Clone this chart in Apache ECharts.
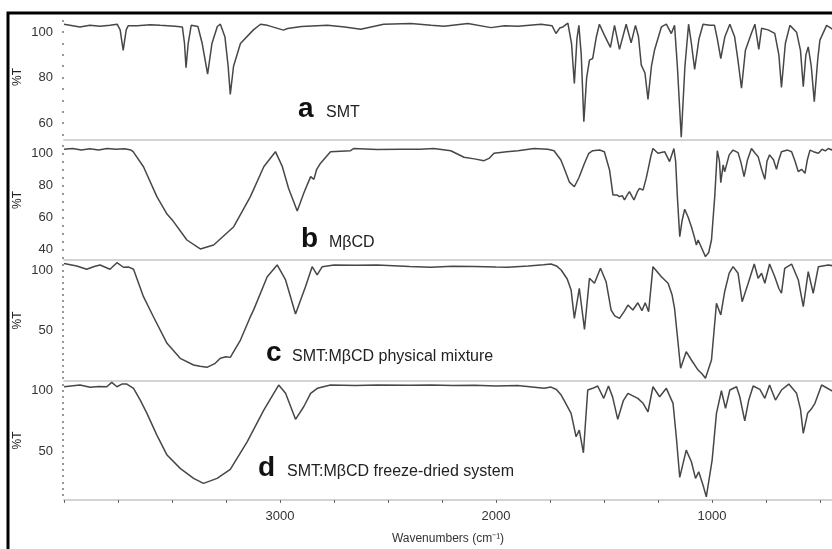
<!DOCTYPE html>
<html>
<head>
<meta charset="utf-8">
<script src="https://cdn.jsdelivr.net/npm/echarts@6/dist/echarts.min.js"></script>
<style>html,body{margin:0;padding:0;background:#fff;}#c{width:832px;height:549px;}</style>
</head>
<body>
<div id="c"></div>
<script>
// ---- DATA ----
const xLabels = [3000, 2000, 1000];
const xTitle = 'Wavenumbers (cm\u207B\u00B9)';
const yTitle = '%T';

const aLabel = ['a', 'SMT'];
const aTicks = [60, 80, 100];
const aWn = [4000,3995,3926,3880,3833,3787,3754,3740,3726,3712,3703,3661,3600,3555,3485,3452,3442,3435,3425,3411,3380,3360,3335,3315,3290,3276,3255,3240,3230,3215,3183,3123,3090,3058,2984,2965,2900,2780,2700,2626,2520,2394,2300,2241,2130,2023,1960,1898,1791,1740,1722,1705,1690,1667,1650,1637,1625,1616,1605,1593,1580,1567,1552,1535,1521,1498,1470,1451,1428,1397,1374,1354,1340,1327,1310,1296,1280,1266,1234,1211,1188,1173,1160,1142,1125,1108,1095,1080,1060,1041,1010,988,975,959,940,917,895,880,863,845,817,801,783,770,740,709,690,678,660,639,608,590,577,565,554,540,526,510,500,469,436];
const aT  = [103.5,103.5,102.3,103,102.6,103,103.5,101,92,101,102.8,102.8,103.3,103,102.6,102.3,95,84.3,95,103,102.5,95,81.5,95,102.5,103.5,98,85,72.6,85,95,101,103.5,103,100.9,101.6,102.5,103,102.3,101.3,103.5,103.8,103,102.6,103.8,102,102.8,102.6,103.5,102.8,99.4,101.8,102.3,104,95,77.4,97,103,90,60.6,80,87.7,88.4,98,103.5,98.7,93.3,103,92.4,103.5,95.3,103,98,85.5,82,70.4,85,92,102.3,103.5,99.4,103,85,53.7,85,103.5,95,83.6,97,103.5,103,103,97,88.4,98,103.5,98,88,75.3,92,99.5,103.5,92.4,101.7,101,99.5,90,75.7,95,103,100,92,76,90,93.5,85,69.4,88,96.5,103,101];

const bLabel = ['b', 'M\u03B2CD'];
const bTicks = [40, 60, 80, 100];
const bWn = [4000,3960,3920,3880,3840,3800,3760,3720,3690,3680,3632,3570,3523,3493,3431,3369,3307,3214,3137,3075,3021,2990,2960,2920,2890,2858,2843,2830,2812,2766,2673,2659,2550,2441,2350,2288,2209,2148,2100,2055,2030,2009,1950,1898,1824,1760,1731,1700,1685,1660,1637,1615,1590,1570,1552,1520,1498,1474,1458,1440,1428,1415,1405,1392,1382,1370,1361,1345,1335,1319,1305,1296,1283,1273,1250,1219,1196,1176,1168,1160,1149,1138,1126,1110,1095,1080,1072,1064,1045,1030,1015,1002,987,975,965,959,948,941,920,902,879,865,851,835,817,800,786,770,755,745,733,715,701,690,678,650,631,615,600,585,569,558,546,530,507,490,475,461,445,436];
const bT  = [102.5,103,102,102.8,102,103,102.5,102.8,102,101,91.6,72.9,62,57.3,45.8,40.2,42.7,54.1,72.9,91.6,101,92,78,63.9,75,85.4,83.7,90,93.8,101,101.6,103,102.3,102.5,102.5,103,101.6,97.5,96.5,95.4,97,100,101,101.6,103,102.5,101.6,96,91,82,79.1,85,93.8,100,101.6,102,101,89.6,73.9,74,72.9,73.5,70.8,74,76,73,70.8,76,78.1,77,84,89.6,98,103,100,101,94.8,103,95,72.9,47.9,58,65,60,54.1,47,42.7,45.8,40,35.4,38,45.8,72.9,101.6,95,81.6,92.7,88.5,99,102,100.4,94,85.4,96,103,100,97.9,90,83.7,95,99,96,90,96,101,102,101,95,88.5,90,87.5,96,102,101,100,102.5,101.5,103,102,104];

const cLabel = ['c', 'SMT:M\u03B2CD physical mixture'];
const cTicks = [50, 100];
const cWn = [4000,3995,3941,3895,3860,3833,3787,3755,3725,3700,3678,3632,3586,3523,3462,3400,3370,3338,3300,3276,3250,3230,3183,3140,3122,3059,3013,2974,2928,2882,2851,2828,2804,2750,2650,2550,2400,2302,2200,2100,2000,1946,1850,1780,1745,1720,1698,1670,1652,1637,1614,1590,1567,1544,1516,1490,1467,1450,1428,1405,1389,1366,1343,1324,1309,1293,1273,1234,1203,1185,1173,1160,1145,1119,1095,1064,1045,1030,1002,979,971,959,941,920,902,879,860,832,804,786,770,755,733,709,690,678,663,631,600,577,554,531,507,461,436];
const cT  = [106,106.2,104,101.2,103.5,104.8,101.2,106.7,102.9,103,101.2,78.1,61.2,38.8,26.2,20.6,19.5,18.6,22,26.2,27.5,27,41.6,60,67,94.9,104.8,92.2,63.5,86.5,103.4,96.4,103.4,104.8,104.5,104.8,103.5,102.9,103.8,103.5,103,102.9,104,105,105.6,104,100.6,93,83.7,59.9,85.2,50.6,93.6,89.4,102,90.7,66.9,62,59.9,66,71.1,66.9,73,66.3,73,65.5,103.4,94.9,89.4,80,68.3,45,17.8,31.8,24.8,16.3,13,9.4,24.8,72.5,71.1,62.7,82.3,98,103.4,97.8,73.9,89.4,105.6,93.6,97.8,89.4,105.6,94.9,85,81,102,105.6,92.2,69.7,99.2,81,103.4,104.8,104];

const dLabel = ['d', 'SMT:M\u03B2CD freeze-dried system'];
const dTicks = [50, 100];
const dWn = [4000,3995,3926,3879,3840,3802,3779,3755,3732,3709,3678,3647,3616,3570,3523,3462,3400,3354,3291,3230,3152,3075,3006,2974,2928,2890,2858,2827,2766,2650,2550,2400,2300,2200,2100,2000,1900,1777,1745,1720,1698,1685,1652,1629,1614,1595,1575,1552,1529,1501,1479,1460,1436,1410,1389,1343,1320,1296,1273,1242,1211,1180,1165,1149,1119,1095,1076,1061,1040,1026,999,979,956,937,917,886,871,848,830,809,778,755,733,706,678,644,608,590,577,557,540,523,492,436];
const dT  = [103.3,103.3,104.7,102.8,103.5,103.3,106.9,103.3,105.5,105.5,102,92.4,81.5,63.7,47.3,36.4,28.2,24.1,28.2,35.6,58.2,84.2,104.7,97.9,76.6,86.9,97.9,102,104.7,104.3,104.7,104.5,104.7,104.3,104.5,104,104.3,102,103,101,96.5,92.4,81.5,62.3,67.8,49.2,100.6,102,103.9,93.8,103.9,95,76.6,92,97.9,93.8,90,82.8,103.3,95.1,102,89.7,62.3,29,51.4,41.8,28.2,33.6,22,13.1,43.2,81.5,100,85.6,100.6,103.3,95.1,75.4,92,103.9,101.1,93.8,104.7,92.4,100.6,105.5,97.9,85,65.1,81.5,85,89.7,104.7,99.2];

// ---- CHART ----
const X_MIN = 444, X_MAX = 4000;
const xTickValues = [];
for (let v = 500; v <= X_MAX; v += 250) xTickValues.push(v);

const panels = [
  {wn: aWn, t: aT, ticks: aTicks, label: aLabel, top: 14, h: 126, min: 52.5, max: 108, lx: 298, base: 118},
  {wn: bWn, t: bT, ticks: bTicks, label: bLabel, top: 140, h: 120, min: 33.3, max: 108.3, lx: 301, base: 248},
  {wn: cWn, t: cT, ticks: cTicks, label: cLabel, top: 260, h: 121, min: 7.1, max: 109, lx: 266, base: 362},
  {wn: dWn, t: dT, ticks: dTicks, label: dLabel, top: 381, h: 119, min: 10.5, max: 108, lx: 258, base: 477}
];

function minorTicks(min, max) {
  const out = [];
  for (let v = Math.ceil(min / 5) * 5; v <= max; v += 5) out.push(v);
  return out;
}

const grids = [], xAxes = [], yAxes = [], series = [], graphics = [];
const FONT = 'Arial, "Liberation Sans", sans-serif';
panels.forEach((p, i) => {
  const last = i === panels.length - 1;
  grids.push({left: 64, right: 0, top: p.top, height: p.h});
  xAxes.push({
    type: 'value', gridIndex: i, inverse: true, min: X_MIN, max: X_MAX,
    axisLine: {show: true, lineStyle: {color: '#d4d4d4', width: 2}},
    axisTick: {show: last, length: 3, customValues: xTickValues, lineStyle: {color: '#666', width: 1}},
    axisLabel: {show: last, customValues: xLabels, margin: 10, color: '#333', fontSize: 13, fontFamily: FONT,
      formatter: v => String(v)},
    splitLine: {show: false},
    name: last ? xTitle : '', nameLocation: 'middle', nameGap: 33,
    nameTextStyle: {color: '#333', fontSize: 12, fontFamily: FONT}
  });
  yAxes.push({
    type: 'value', gridIndex: i, min: p.min, max: p.max,
    axisLine: {show: false},
    axisTick: {show: true, length: 2, customValues: minorTicks(p.min, p.max), lineStyle: {color: '#777', width: 1.5}},
    axisLabel: {show: true, customValues: p.ticks, margin: 11, color: '#333', fontSize: 13, fontFamily: FONT,
      formatter: v => String(v)},
    splitLine: {show: false},
    name: yTitle, nameLocation: 'middle', nameGap: 40, nameRotate: 90, nameMoveOverlap: false,
    nameTextStyle: {color: '#222', fontSize: 12, fontFamily: FONT}
  });
  series.push({
    type: 'line', xAxisIndex: i, yAxisIndex: i, showSymbol: false, smooth: false,
    lineStyle: {color: '#474747', width: 1.5},
    data: p.wn.map((w, k) => [w, p.t[k]]),
    silent: true
  });
  graphics.push({type: 'text', style: {x: p.lx, y: p.base - 9, text: p.label[0], font: 'bold 28px ' + FONT, fill: '#111', verticalAlign: 'middle', align: 'left'}});
  graphics.push({type: 'text', style: {x: p.lx + (i === 3 ? 29 : (i === 2 ? 26 : 28)), y: p.base - 5.5, text: p.label[1], font: '16px ' + FONT, fill: '#222', verticalAlign: 'middle', align: 'left'}});
});
graphics.push({type: 'rect', shape: {x: 8, y: 13, width: 860, height: 580}, style: {fill: 'none', stroke: '#000', lineWidth: 3}, z: 100});

const chart = echarts.init(document.getElementById('c'), null, {renderer: 'canvas'});
chart.setOption({
  animation: false,
  backgroundColor: '#fff',
  grid: grids, xAxis: xAxes, yAxis: yAxes, series: series, graphic: graphics
});
</script>
</body>
</html>
